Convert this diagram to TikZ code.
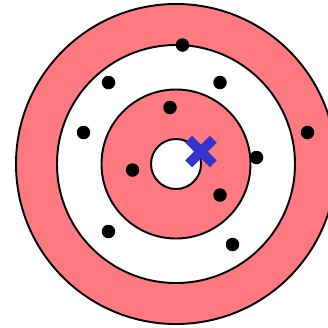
\documentclass[tikz,border=0pt]{standalone}
\usepackage{xcolor}
\usepackage{tikz}
\usetikzlibrary{shapes.misc}

\definecolor{ringpink}{RGB}{255,122,128}
\definecolor{markblue}{RGB}{52,52,204}

\begin{document}
\begin{tikzpicture}[
    ring/.style={circle, draw=black, line width=1.1pt, inner sep=0pt, outer sep=0pt},
    dot/.style={circle, fill=black, inner sep=0pt, minimum size=0.27cm},
    target/.style={cross out, draw=markblue, line width=5.5pt, minimum size=0.3cm, inner sep=0pt}
]

\clip (-3.52,-3.26) rectangle (3.04,3.28);

% rings, outside in
\node[ring, fill=ringpink, minimum size=6.4cm] (outer) at (0,0) {};
\node[ring, fill=white, minimum size=4.76cm] (middle) at (0,0) {};
\node[ring, fill=ringpink, minimum size=2.98cm] (inner) at (0,0) {};
\node[ring, fill=white, minimum size=1.0cm] (bull) at (0,0) {};

% points
\node[dot] (p1) at (0.13, 2.38) {};
\node[dot] (p2) at (-1.35, 1.63) {};
\node[dot] (p3) at (0.88, 1.63) {};
\node[dot] (p4) at (-0.12, 1.13) {};
\node[dot] (p5) at (-1.85, 0.63) {};
\node[dot] (p6) at (2.63, 0.63) {};
\node[dot] (p7) at (1.61, 0.13) {};
\node[dot] (p8) at (-0.87, -0.12) {};
\node[dot] (p9) at (0.88, -0.62) {};
\node[dot] (p10) at (-1.35, -1.35) {};
\node[dot] (p11) at (1.13, -1.61) {};

% marker
\node[target] (hit) at (0.5, 0.25) {};

\end{tikzpicture}
\end{document}
